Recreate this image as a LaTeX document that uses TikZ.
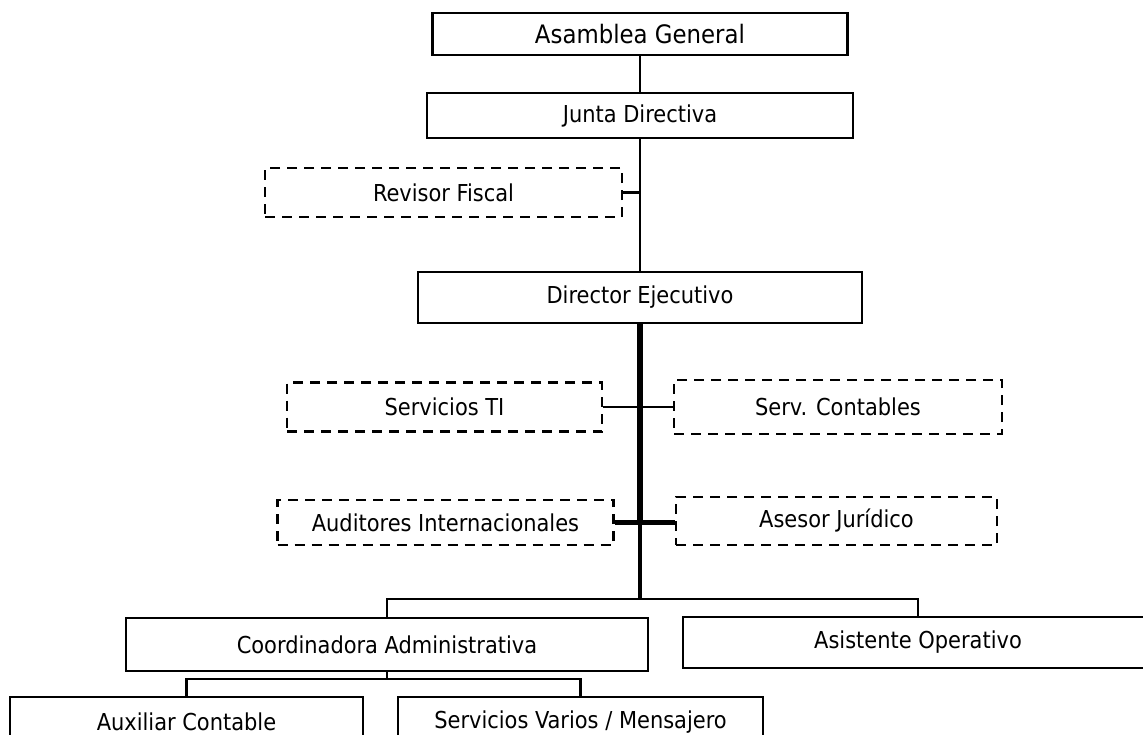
\documentclass[tikz,border=0pt]{standalone}
\usepackage{fontspec}
\setmainfont{DejaVu Sans Condensed}
\begin{document}
\begin{tikzpicture}[x=1pt,y=-1pt,
  box/.style={draw=black,line width=2.4pt,rectangle,inner sep=0pt,fill=white,
    font=\fontsize{23.3}{25}\selectfont},
  dbox/.style={box,line width=2.2pt,dash pattern=on 10pt off 7pt},
  conn/.style={draw=black,line width=2.8pt}]
\useasboundingbox (0,0) rectangle (1143,734);
\clip (0,0) rectangle (1143,734);
\fill[white] (0,0) rectangle (1143,734);
% nodes
\node[box,minimum width=415pt,minimum height=42pt,font=\fontsize{25.4}{27}\selectfont] (asamblea) at (640,34) {Asamblea General};
\node[box,minimum width=426pt,minimum height=45pt] (junta) at (640,115.5) {Junta Directiva};
\node[dbox,minimum width=357pt,minimum height=49pt] (revisor) at (443.5,192.5) {Revisor Fiscal};
\node[box,minimum width=444pt,minimum height=51pt] (director) at (640,297.5) {Director Ejecutivo};
\node[dbox,minimum width=315pt,minimum height=49pt] (servti) at (444.5,407) {Servicios TI};
\node[dbox,minimum width=328pt,minimum height=54pt] (servcont) at (838,407) {Serv. Contables};
\node[dbox,minimum width=336pt,minimum height=45pt] (auditores) at (445.5,522.5) {Auditores Internacionales};
\node[dbox,minimum width=321pt,minimum height=48pt] (asesor) at (836.5,521) {Asesor Jurídico};
\node[box,minimum width=522pt,minimum height=53pt] (coord) at (387,644.5) {Coordinadora Administrativa};
\node[box,minimum width=470pt,minimum height=51pt] (asist) at (918,642.5) {Asistente Operativo};
\node[box,minimum width=353pt,minimum height=50pt] (aux) at (186.5,722) {Auxiliar Contable};
\node[box,minimum width=365pt,minimum height=50pt] (varios) at (580.5,722) {Servicios Varios / Mensajero};
% coordinates
\coordinate (rj) at (640,192.5);
\coordinate (tb) at (640,521);
\coordinate (hb) at (640,599);
\coordinate (cb) at (387,679);
% connectors
\draw[conn] (asamblea.south) -- (junta.north);
\draw[conn] (junta.south) -- (director.north);
\draw[conn] (revisor.east) -- (rj);
\draw[draw=black,line width=5.5pt] (director.south) -- (tb);
\draw[draw=black,line width=3.2pt] (tb) -- (hb);
\draw[draw=black,line width=2.4pt] (servti.east) -- (servti.east -| servcont.west);
\draw[draw=black,line width=5pt] (auditores.east) -- (auditores.east -| asesor.west);
\draw[conn] (hb) -- (hb -| coord) -- (coord.north);
\draw[conn] (hb) -- (hb -| asist) -- (asist.north);
\draw[conn] (coord.south) -- (cb) -- (cb -| aux) -- (aux.north);
\draw[conn] (cb) -- (cb -| varios) -- (varios.north);
\end{tikzpicture}
\end{document}
